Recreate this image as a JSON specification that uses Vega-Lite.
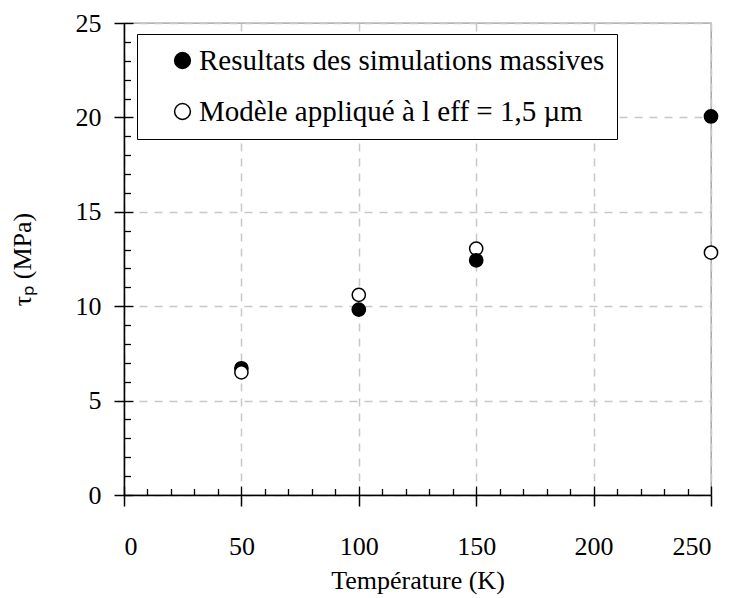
{
  "$schema": "https://vega.github.io/schema/vega-lite/v6.json",
  "width": 587,
  "height": 472,
  "autosize": "none",
  "padding": {"left": 124, "top": 23, "right": 26, "bottom": 103},
  "background": "white",
  "config": {
    "view": {"stroke": "#999999", "strokeWidth": 1.3},
    "font": "'Liberation Serif', 'Times New Roman', serif",
    "axis": {"labelColor": "black", "titleColor": "black", "titleFontWeight": "normal"}
  },
  "data": {
    "values": [
      {"serie": "Resultats des simulations massives", "T": 50, "tau": 6.71},
      {"serie": "Modèle appliqué à l eff = 1,5 µm", "T": 50, "tau": 6.5},
      {"serie": "Modèle appliqué à l eff = 1,5 µm", "T": 100, "tau": 10.6},
      {"serie": "Resultats des simulations massives", "T": 100, "tau": 9.82},
      {"serie": "Modèle appliqué à l eff = 1,5 µm", "T": 150, "tau": 13.05},
      {"serie": "Resultats des simulations massives", "T": 150, "tau": 12.43},
      {"serie": "Resultats des simulations massives", "T": 250, "tau": 20.05},
      {"serie": "Modèle appliqué à l eff = 1,5 µm", "T": 250, "tau": 12.84}
    ]
  },
  "layer": [
    {
      "mark": {"type": "point", "opacity": 0},
      "encoding": {
        "x": {
          "field": "T", "type": "quantitative",
          "scale": {"domain": [0, 250], "nice": false, "zero": false},
          "axis": {
            "orient": "bottom",
            "values": [0,10,20,30,40,50,60,70,80,90,100,110,120,130,140,150,160,170,180,190,200,210,220,230,240,250],
            "tickSize": {"condition": {"test": "datum.value % 50 === 0", "value": -9}, "value": -6.5},
            "tickColor": "black", "tickWidth": 1.3,
            "labels": false, "domain": false, "grid": false, "title": null
          }
        },
        "y": {
          "field": "tau", "type": "quantitative",
          "scale": {"domain": [0, 25], "nice": false, "zero": false},
          "axis": {
            "orient": "left",
            "values": [0,1,2,3,4,5,6,7,8,9,10,11,12,13,14,15,16,17,18,19,20,21,22,23,24,25],
            "tickSize": {"condition": {"test": "datum.value % 5 === 0", "value": -9}, "value": -6.5},
            "tickColor": "black", "tickWidth": 1.3,
            "labels": false, "domain": false, "grid": false, "title": null
          }
        }
      }
    },
    {
      "mark": {"type": "point", "filled": true, "stroke": "black", "strokeWidth": 1.5, "size": 175, "opacity": 1, "shape": "circle"},
      "encoding": {
        "x": {
          "field": "T", "type": "quantitative",
          "scale": {"domain": [0, 250], "nice": false, "zero": false},
          "axis": {
            "orient": "bottom",
            "values": [0, 50, 100, 150, 200, 250],
            "tickSize": 11, "tickColor": "black", "tickWidth": 1.5,
            "domainColor": "black", "domainWidth": 1.5,
            "grid": true, "gridColor": "#c8c8c8", "gridDash": [8, 7], "gridWidth": 1.5,
            "labelFont": "'Liberation Serif', 'Times New Roman', serif", "labelFontSize": 26, "labelPadding": 27, "labelColor": "black",
            "title": "Température (K)", "titleFont": "'Liberation Serif', 'Times New Roman', serif", "titleFontSize": 26, "titlePadding": 8
          }
        },
        "y": {
          "field": "tau", "type": "quantitative",
          "scale": {"domain": [0, 25], "nice": false, "zero": false},
          "axis": {
            "orient": "left",
            "values": [0, 5, 10, 15, 20, 25],
            "tickSize": 10, "tickColor": "black", "tickWidth": 1.5,
            "domainColor": "black", "domainWidth": 1.5,
            "grid": true, "gridColor": "#c8c8c8", "gridDash": [8, 7], "gridWidth": 1.5,
            "labelFont": "'Liberation Serif', 'Times New Roman', serif", "labelFontSize": 26, "labelPadding": 13, "labelColor": "black",
            "title": "τₚ (MPa)", "titleFont": "'Liberation Serif', 'Times New Roman', serif", "titleFontSize": 26, "titlePadding": 40
          }
        },
        "fill": {
          "field": "serie", "type": "nominal",
          "scale": {"domain": ["Resultats des simulations massives", "Modèle appliqué à l eff = 1,5 µm"], "range": ["black", "white"]},
          "legend": {
            "orient": "none", "legendX": 13, "legendY": 11,
            "title": null,
            "strokeColor": "black", "fillColor": "white",
            "padding": 12, "rowPadding": 21,
            "labelFont": "'Liberation Serif', 'Times New Roman', serif", "labelFontSize": 29, "labelColor": "black", "labelLimit": 0, "labelOffset": 2,
            "symbolType": "circle", "symbolSize": 250, "symbolStrokeColor": "black", "symbolStrokeWidth": 1.5, "symbolOffset": 19
          }
        }
      }
    }
  ],
  "resolve": {"scale": {"x": "independent", "y": "independent"}, "axis": {"x": "independent", "y": "independent"}}
}
